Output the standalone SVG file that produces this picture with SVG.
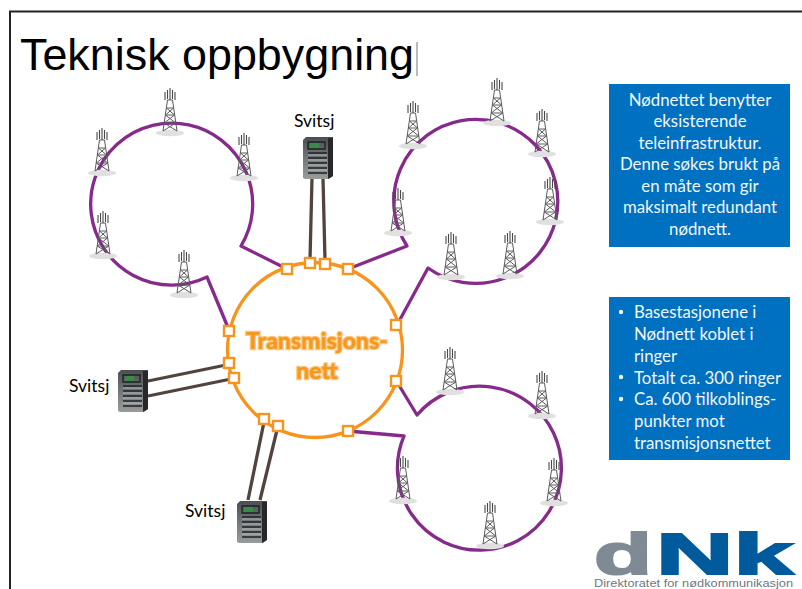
<svg xmlns="http://www.w3.org/2000/svg" width="802" height="589" viewBox="0 0 802 589">
<style>
.ring{fill:none;stroke:#862a8c;stroke-width:3.3;stroke-linejoin:round}
.link{fill:none;stroke:#52433e;stroke-width:3.3}
.port{fill:#fff;stroke:#f7941d;stroke-width:2.4}
.lbl{font-family:Lato,"Open Sans",sans-serif;font-size:17.5px;fill:#000}
.box{fill:#0070c0}
.bt{font-family:Lato,"Open Sans",sans-serif;font-size:16.8px;fill:#f2f7fb}
.mid{text-anchor:middle}
.tx{font-family:Lato,"Open Sans",sans-serif;font-weight:900;font-size:23px;fill:#f7981d;stroke:#fbc77f;stroke-width:2.4px;paint-order:stroke;text-anchor:middle}
.t{fill:none;stroke:#5c5c5c;stroke-width:1}
</style>
<defs>
<linearGradient id="sw" x1="0" y1="0" x2="0" y2="1"><stop offset="0" stop-color="#4a4f52"/><stop offset=".55" stop-color="#777b7d"/><stop offset="1" stop-color="#9a9c9c"/></linearGradient>
<g id="tower">
<ellipse cx="0" cy="0" rx="14" ry="3.2" fill="#e0e0e0"/>
<path class="t" d="M-7-2L-2.5-33M7-2L2.500-33M-2.500-33H2.500M-3.500-25H3.500M-4.500-18H4.500M-5.800-10H5.800M-3.500-25L4.500-18M3.500-25L-4.500-18M-4.500-18L5.800-10M4.500-18L-5.800-10M-5.800-10L7-2M5.800-10L-7-2"/>
<path d="M0-45V-33M-5-41V-33M5-41V-33M-2.500-43V-34M2.500-43V-34" fill="none" stroke="#4a4a4a" stroke-width="1.100"/>
</g>
<g id="switch">
<path d="M3 0H30V39L26 42H2L0 41V3Z" fill="url(#sw)"/>
<path d="M25 1H30V39L25 42Z" fill="#26282a"/>
<rect x="7" y="6" width="9" height="5" fill="#3c8a4a"/>
<path d="M5 5H22V12H5ZM5 16H24M5 21H24M5 26H24M5 31H24M5 36H24" fill="none" stroke="#1f2224" stroke-width="1.400"/>
<path d="M5 18H24M5 23H24M5 28H24M5 33H24" fill="none" stroke="#c4c6c6" stroke-width=".8"/>
</g>
</defs>
<rect width="802" height="589" fill="#fff"/>
<path d="M802 11.500H10V589" fill="none" stroke="#222" stroke-width="2"/>
<text x="20" y="70" font-family="Liberation Sans,Arial,sans-serif" font-size="45px" fill="#000" textLength="394" lengthAdjust="spacingAndGlyphs">Teknisk oppbygning</text>
<path d="M417 42V76" stroke="#777" stroke-width="1"/>

<g id="connectors">
<path class="ring" d="M229 330L207 277A81 81 0 1 1 241 246L287 269"/>
<path class="ring" d="M348 269L407 246A82 82 0 1 1 428 268L397 325"/>
<path class="ring" d="M397 382L417 415A82 82 0 1 1 404 436L348 431"/>
<path class="link" d="M312 178L310 260M323 178L325 260"/>
<path class="link" d="M148 381L226 365M148 396L231 379"/>
<path class="link" d="M248 500L264 422M260 500L277 430"/>
</g>
<g id="transmisjonsnett">
<circle cx="315" cy="350" r="87.500" fill="none" stroke="#f7941d" stroke-width="3.300"/>
<text class="tx" x="317" y="349">Transmisjons-</text>
<text class="tx" x="317" y="379">nett</text>
</g>
<g id="ports">
<rect class="port" x="282" y="264" width="10" height="10"/>
<rect class="port" x="305" y="258" width="10" height="10"/>
<rect class="port" x="320" y="259" width="10" height="10"/>
<rect class="port" x="343" y="264" width="10" height="10"/>
<rect class="port" x="391" y="320" width="10" height="10"/>
<rect class="port" x="391" y="376" width="10" height="10"/>
<rect class="port" x="343" y="426" width="10" height="10"/>
<rect class="port" x="273" y="421" width="10" height="10"/>
<rect class="port" x="259" y="414" width="10" height="10"/>
<rect class="port" x="229" y="373" width="10" height="10"/>
<rect class="port" x="224" y="358" width="10" height="10"/>
<rect class="port" x="224" y="326" width="10" height="10"/>
</g>
<g id="ring1-towers">
<use href="#tower" x="170" y="133"/><use href="#tower" x="102" y="173"/><use href="#tower" x="244" y="178"/><use href="#tower" x="103" y="256"/><use href="#tower" x="184" y="295"/>
</g>
<g id="ring2-towers">
<use href="#tower" x="497" y="123"/><use href="#tower" x="413" y="146"/><use href="#tower" x="542" y="154"/><use href="#tower" x="550" y="222"/><use href="#tower" x="398" y="233"/><use href="#tower" x="451" y="277"/><use href="#tower" x="510" y="276"/>
</g>
<g id="ring3-towers">
<use href="#tower" x="450" y="392"/><use href="#tower" x="542" y="416"/><use href="#tower" x="554" y="503"/><use href="#tower" x="403" y="501"/><use href="#tower" x="490" y="546"/>
</g>
<g id="switch-top"><use href="#switch" x="303" y="137"/><text class="lbl" x="294" y="127">Svitsj</text></g>
<g id="switch-left"><use href="#switch" x="118" y="370"/><text class="lbl" x="69" y="392">Svitsj</text></g>
<g id="switch-bottom"><use href="#switch" x="237" y="501"/><text class="lbl" x="185" y="517">Svitsj</text></g>
<g id="info-1">
<rect class="box" x="609" y="84" width="181" height="163"/>
<text class="bt mid" x="700" y="106">Nødnettet benytter</text>
<text class="bt mid" x="700" y="127">eksisterende</text>
<text class="bt mid" x="700" y="149">teleinfrastruktur.</text>
<text class="bt mid" x="700" y="170">Denne søkes brukt på</text>
<text class="bt mid" x="700" y="192">en måte som gir</text>
<text class="bt mid" x="700" y="213">maksimalt redundant</text>
<text class="bt mid" x="700" y="235">nødnett.</text>
</g>
<g id="info-2">
<rect class="box" x="609" y="297" width="181" height="163"/>
<circle cx="621" cy="312" r="2.200" fill="#f2f7fb"/><circle cx="621" cy="377" r="2.200" fill="#f2f7fb"/><circle cx="621" cy="399" r="2.200" fill="#f2f7fb"/>
<text class="bt" x="634" y="318">Basestasjonene i</text>
<text class="bt" x="634" y="340">Nødnett koblet i</text>
<text class="bt" x="634" y="362">ringer</text>
<text class="bt" x="634" y="384">Totalt ca. 300 ringer</text>
<text class="bt" x="634" y="405">Ca. 600 tilkoblings-</text>
<text class="bt" x="634" y="427">punkter mot</text>
<text class="bt" x="634" y="449">transmisjonsnettet</text>
</g>
<g id="logo">
<text x="594" y="574" font-family="Liberation Sans,Arial,sans-serif" font-weight="700" font-size="57px" fill="#7f8a94" stroke="#7f8a94" stroke-width="2" textLength="58" lengthAdjust="spacingAndGlyphs">d</text>
<text x="656" y="574" font-family="Liberation Sans,Arial,sans-serif" font-weight="700" font-size="57px" fill="#005a9c" stroke="#005a9c" stroke-width="2" textLength="137" lengthAdjust="spacingAndGlyphs">Nk</text>
<text x="594" y="587" font-family="Liberation Sans,Arial,sans-serif" font-size="10.500px" fill="#6f7780" textLength="199" lengthAdjust="spacingAndGlyphs">Direktoratet for nødkommunikasjon</text>
</g>
</svg>
